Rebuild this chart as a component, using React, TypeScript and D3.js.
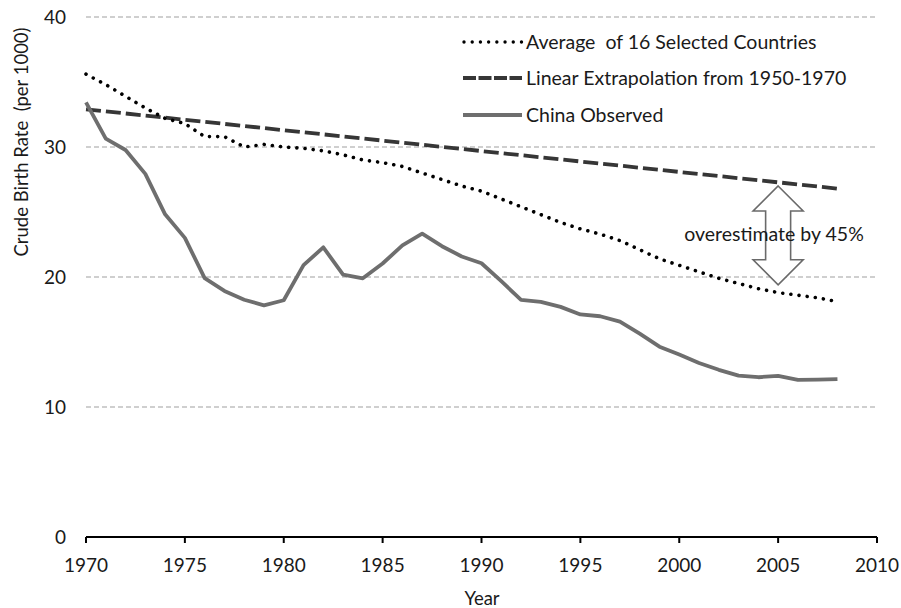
import React from "react";
import * as d3 from "d3";

const years: number[] = d3.range(1970, 2009);

const chinaObserved: number[] = [
  33.43, 30.65, 29.77, 27.93, 24.82, 23.01, 19.91, 18.93, 18.25, 17.82,
  18.21, 20.91, 22.28, 20.19, 19.9, 21.04, 22.43, 23.33, 22.37, 21.58,
  21.06, 19.68, 18.24, 18.09, 17.7, 17.12, 16.98, 16.57, 15.64, 14.64,
  14.03, 13.38, 12.86, 12.41, 12.29, 12.4, 12.09, 12.1, 12.14,
];

const average16: number[] = [
  35.6, 34.8, 33.9, 33.0, 32.2, 31.8, 30.8, 30.8, 30.0, 30.2,
  30.0, 29.9, 29.7, 29.4, 29.0, 28.8, 28.5, 28.0, 27.5, 27.0,
  26.6, 26.0, 25.4, 24.8, 24.2, 23.7, 23.3, 22.8, 22.1, 21.4,
  20.9, 20.4, 19.9, 19.5, 19.1, 18.8, 18.6, 18.4, 18.1,
];

const extrapYears: number[] = [1970, 2008];
const extrapValues: number[] = [32.9, 26.8];

const xTicks: number[] = [1970, 1975, 1980, 1985, 1990, 1995, 2000, 2005, 2010];
const yTicks: number[] = [0, 10, 20, 30, 40];

const legendLabels: string[] = [
  "Average  of 16 Selected Countries",
  "Linear Extrapolation from 1950-1970",
  "China Observed",
];

const arrowYear = 2005;
const arrowTop = 27.0;
const arrowBottom = 19.4;
const annotation = "overestimate by 45%";

const FONT = "Lato, 'Open Sans', sans-serif";
const TEXT = "#1a1a1a";

export default function App() {
  const W = 901;
  const H = 608;
  const x = d3.scaleLinear().domain([1970, 2010]).range([86, 877]);
  const y = d3.scaleLinear().domain([0, 40]).range([537, 17]);

  const line = d3
    .line<[number, number]>()
    .x((d) => x(d[0]))
    .y((d) => y(d[1]));

  const chinaPath = line(years.map((yr, i) => [yr, chinaObserved[i]]))!;
  const avgPath = line(years.map((yr, i) => [yr, average16[i]]))!;
  const extPath = line(extrapYears.map((yr, i) => [yr, extrapValues[i]]))!;

  const ax = x(arrowYear);
  const aTop = y(arrowTop);
  const aBot = y(arrowBottom);
  const headW = 25;
  const headH = 25;
  const shaftW = 12.5;
  const arrowPts: [number, number][] = [
    [ax, aTop],
    [ax + headW, aTop + headH],
    [ax + shaftW, aTop + headH],
    [ax + shaftW, aBot - headH],
    [ax + headW, aBot - headH],
    [ax, aBot],
    [ax - headW, aBot - headH],
    [ax - shaftW, aBot - headH],
    [ax - shaftW, aTop + headH],
    [ax - headW, aTop + headH],
  ];

  const chinaColor = "#6e6e6e";
  const extColor = "#363636";
  const dotColor = "#000";

  const legendY = [42, 78, 115];

  return (
    <div style={{ position: "absolute", left: 0, top: 0 }}>
      <svg width={W} height={H} style={{ display: "block", background: "#fff" }} xmlSpace="preserve">
        {yTicks
          .filter((t) => t > 0)
          .map((t) => (
            <line
              key={"g" + t}
              x1={x(1970)}
              x2={x(2010)}
              y1={y(t)}
              y2={y(t)}
              stroke="#a0a0a0"
              strokeWidth={1.2}
              strokeDasharray="5 3"
            />
          ))}
        {yTicks.map((t) => (
          <text
            key={"yl" + t}
            x={66}
            y={y(t)}
            dy="0.36em"
            textAnchor="end"
            fontFamily={FONT}
            fontSize={19}
            fill={TEXT}
          >
            {t}
          </text>
        ))}
        <line x1={x(1970)} x2={x(2010)} y1={y(0)} y2={y(0)} stroke="#000" strokeWidth={2.2} />
        {xTicks.map((t) => (
          <g key={"xt" + t}>
            <line x1={x(t)} x2={x(t)} y1={y(0)} y2={y(0) + 6} stroke="#000" strokeWidth={2} />
            <text
              x={x(t)}
              y={565}
              dy="0.36em"
              textAnchor="middle"
              fontFamily={FONT}
              fontSize={19}
              fill={TEXT}
            >
              {t}
            </text>
          </g>
        ))}
        <text x={482} y={598} dy="0.36em" textAnchor="middle" fontFamily={FONT} fontSize={18.5} fill={TEXT}>
          Year
        </text>
        <text
          transform="translate(21,142) rotate(-90)"
          dy="0.36em"
          textAnchor="middle"
          fontFamily={FONT}
          fontSize={18.5}
          fill={TEXT}
          style={{ whiteSpace: "pre" }}
        >
          {"Crude Birth Rate  (per 1000)"}
        </text>

        <path d={extPath} fill="none" stroke={extColor} strokeWidth={3.8} strokeDasharray="15 5" />
        <path
          d={avgPath}
          fill="none"
          stroke={dotColor}
          strokeWidth={3.6}
          strokeLinecap="round"
          strokeDasharray="0.01 8.2"
        />
        <path d={chinaPath} fill="none" stroke={chinaColor} strokeWidth={3.8} strokeLinejoin="round" />

        <polygon
          points={arrowPts.map((p) => p.join(",")).join(" ")}
          fill="#fff"
          stroke="#6a6a6a"
          strokeWidth={1.6}
        />
        <text x={774} y={234} dy="0.36em" textAnchor="middle" fontFamily={FONT} fontSize={19.5} fill={TEXT}>
          {annotation}
        </text>

        <line
          x1={464}
          x2={522}
          y1={legendY[0]}
          y2={legendY[0]}
          stroke={dotColor}
          strokeWidth={3.4}
          strokeLinecap="round"
          strokeDasharray="0.01 8.2"
        />
        <line
          x1={463}
          x2={522}
          y1={legendY[1]}
          y2={legendY[1]}
          stroke={extColor}
          strokeWidth={3.8}
          strokeDasharray="13 2.5"
        />
        <line x1={463} x2={522} y1={legendY[2]} y2={legendY[2]} stroke={chinaColor} strokeWidth={3.8} />
        {legendLabels.map((l, i) => (
          <text
            key={"lg" + i}
            x={526}
            y={legendY[i]}
            dy="0.36em"
            fontFamily={FONT}
            fontSize={19.5}
            fill={TEXT}
            style={{ whiteSpace: "pre" }}
          >
            {l}
          </text>
        ))}
      </svg>
    </div>
  );
}
